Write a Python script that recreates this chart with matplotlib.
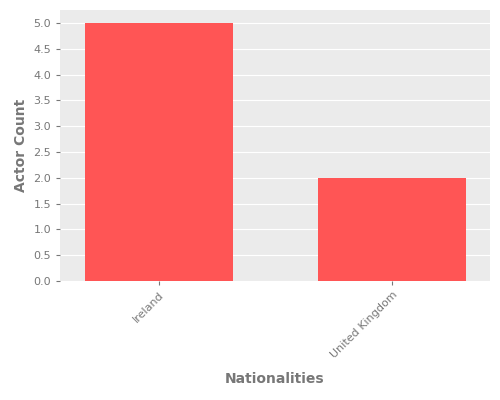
import matplotlib
matplotlib.use("Agg")
import matplotlib.pyplot as plt

nationalities = ["Ireland", "United Kingdom"]
actor_counts = [5, 2]

fig = plt.figure(figsize=(5, 4), dpi=100)
ax = fig.add_axes([0.12, 0.2975, 0.86, 0.6775])
ax.set_facecolor("#EBEBEB")
ax.set_axisbelow(True)
ax.grid(axis="y", color="white", linewidth=0.8)
ax.bar(range(len(nationalities)), actor_counts, width=0.635, color="#FF5555")
ax.set_xlim(-0.425, 1.42)
ax.set_ylim(0, 5.25)
ax.set_yticks([i * 0.5 for i in range(11)])
ax.set_yticklabels([f"{i * 0.5:.1f}" for i in range(11)])
ax.set_xticks(range(len(nationalities)))
ax.set_xticklabels(nationalities, rotation=45, ha="right", rotation_mode="anchor")
for s in ax.spines.values():
    s.set_visible(False)
ax.tick_params(colors="#777777", labelsize=8, length=3)
ax.set_xlabel("Nationalities", color="#777777", fontsize=10, fontweight="bold", labelpad=8)
ax.set_ylabel("Actor Count", color="#777777", fontsize=10, fontweight="bold")
fig.savefig("out.png", dpi=100)
